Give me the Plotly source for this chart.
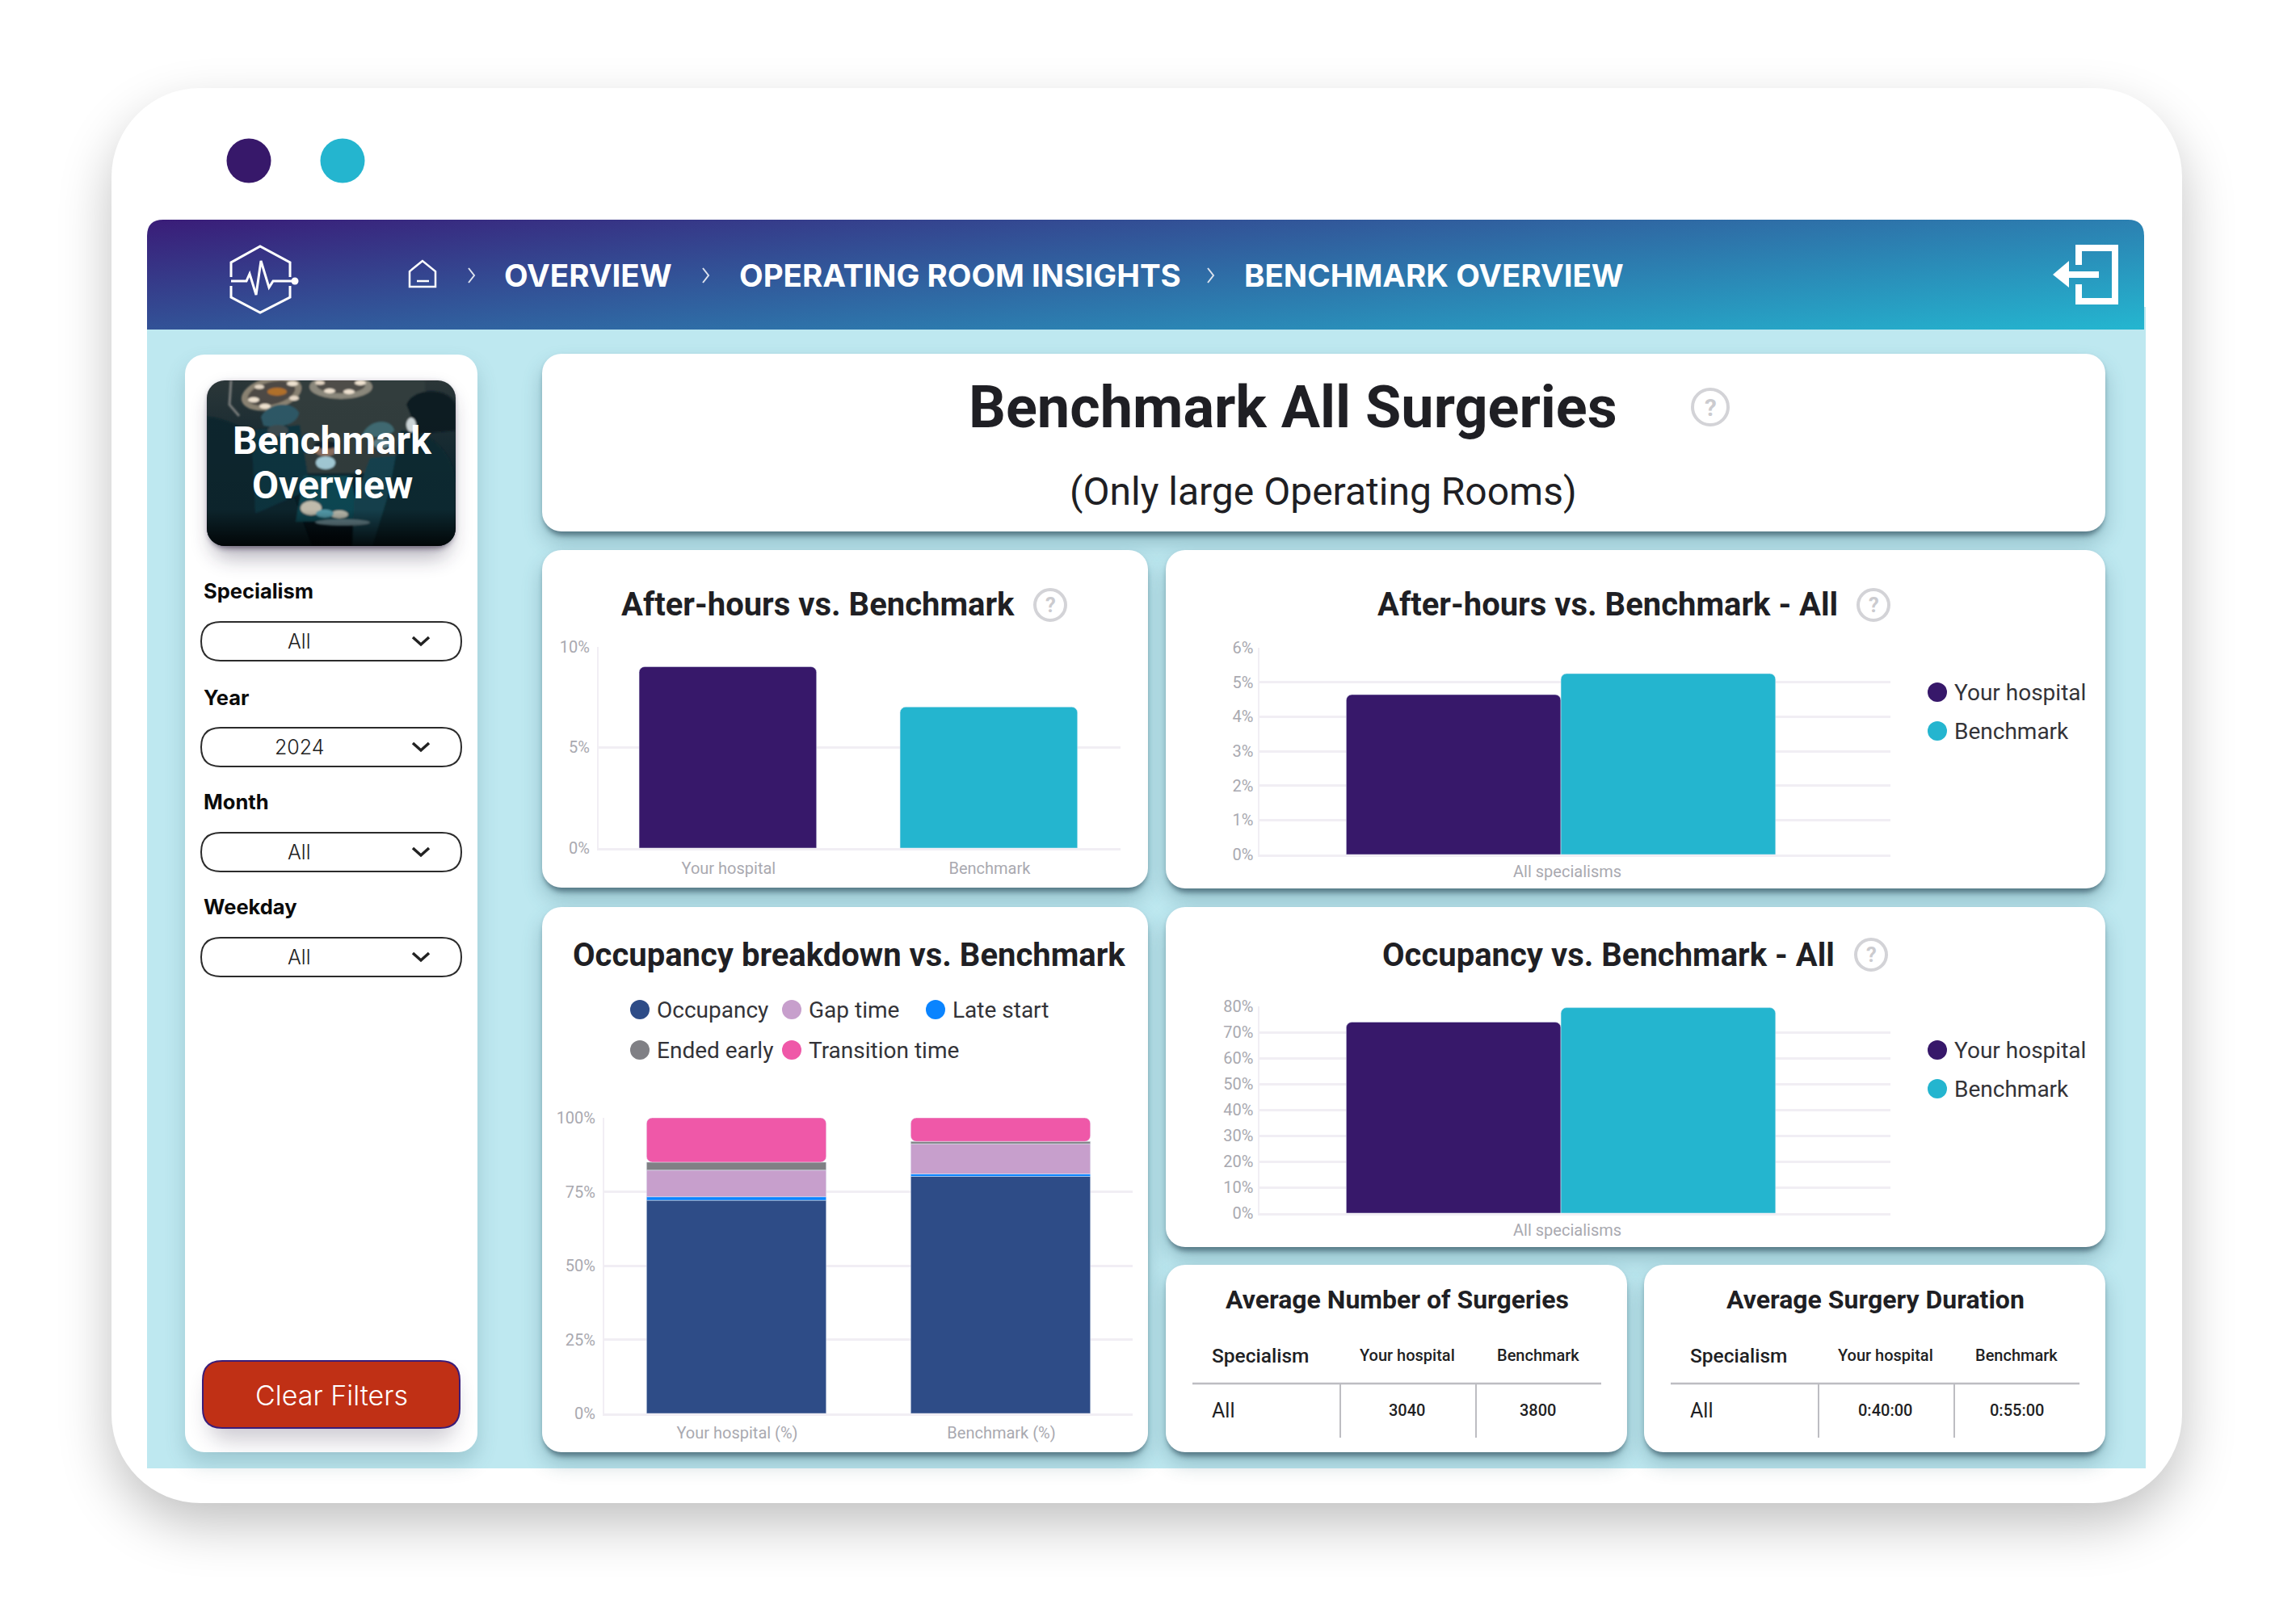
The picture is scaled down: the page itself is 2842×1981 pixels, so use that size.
import base64
import plotly.graph_objects as go

W, H = 2842, 1981

# 차트 데이터
after_cats = ["Your hospital", "Benchmark"]
after_values = [9.0, 7.0]

after_all_cats = ["All specialisms"]
after_all_hospital = [4.64]
after_all_benchmark = [5.25]

occ_all_cats = ["All specialisms"]
occ_all_hospital = [73.9]
occ_all_benchmark = [79.5]

occ_cats = ["Your hospital (%)", "Benchmark (%)"]
occ_occupancy = [72.1, 80.2]
occ_late = [1.2, 0.8]
occ_gap = [9.0, 10.2]
occ_ended = [2.7, 0.8]
occ_transition = [15.0, 8.0]

filter_labels = ["Specialism", "Year", "Month", "Weekday"]
filter_values = ["All", "2024", "All", "All"]

table_header = ["Specialism", "Your hospital", "Benchmark"]
surgeries_row = ["All", "3040", "3800"]
duration_row = ["All", "0:40:00", "0:55:00"]

PURPLE = "#37186A"
TEAL = "#24B5CF"
GRID = "#F1EEF4"
TICK = "#A9A9B0"
INK = "#1F1F24"
RING = "#D3D3D7"


def px(x):
    return x / W


def py(y):
    return 1 - y / H


def round_path(x0, y0, x1, y1, r):
    return (
        f"M {px(x0 + r)} {py(y0)} L {px(x1 - r)} {py(y0)} Q {px(x1)} {py(y0)} {px(x1)} {py(y0 + r)} "
        f"L {px(x1)} {py(y1 - r)} Q {px(x1)} {py(y1)} {px(x1 - r)} {py(y1)} "
        f"L {px(x0 + r)} {py(y1)} Q {px(x0)} {py(y1)} {px(x0)} {py(y1 - r)} "
        f"L {px(x0)} {py(y0 + r)} Q {px(x0)} {py(y0)} {px(x0 + r)} {py(y0)} Z"
    )


def line_path(points, close=False):
    s = "M " + " L ".join(f"{px(x)} {py(y)}" for x, y in points)
    return s + (" Z" if close else "")


# 배경 (그림자, 카드, 헤더 그라데이션, 사진) SVG
cards = [
    (671, 438, 2606, 658),
    (671, 681, 1421, 1099),
    (671, 1123, 1421, 1798),
    (1443, 681, 2606, 1100),
    (1443, 1123, 2606, 1544),
    (1443, 1566, 2014, 1798),
    (2035, 1566, 2606, 1798),
]

card_svg = ""
for x0, y0, x1, y1 in cards:
    w, h = x1 - x0, y1 - y0
    card_svg += f'<rect x="{x0}" y="{y0 + 14}" width="{w}" height="{h}" rx="24" fill="#2c5a68" opacity=".3" filter="url(#b16)"/>'
    card_svg += f'<rect x="{x0 + 2}" y="{y0 + 5}" width="{w - 4}" height="{h}" rx="24" fill="#2c4a58" opacity=".6" filter="url(#b3)"/>'
    card_svg += f'<rect x="{x0}" y="{y0}" width="{w}" height="{h}" rx="24" fill="#fff"/>'

photo_svg = """
<g transform="translate(256,471)" clip-path="url(#pc)">
<rect width="308" height="205" fill="url(#pg)"/>
<g filter="url(#b1)">
<rect x="100" y="0" width="170" height="115" fill="#323d3e"/>
<path d="M30 0 L28 30 L40 44" stroke="#7a7d7c" stroke-width="3" fill="none"/>
<ellipse cx="80" cy="16" rx="38" ry="20" fill="#8a8272" transform="rotate(-14 80 16)"/>
<ellipse cx="80" cy="16" rx="30" ry="14" fill="#4d4a44" transform="rotate(-14 80 16)"/>
<ellipse cx="166" cy="8" rx="39" ry="15" fill="#8b887c"/>
<ellipse cx="166" cy="6" rx="30" ry="10" fill="#4f4e49"/>
<ellipse cx="87" cy="14" rx="12" ry="5" fill="#b0702c"/>
<ellipse cx="58" cy="24" rx="7" ry="3.2" fill="#efe2d0"/><ellipse cx="72" cy="32" rx="7" ry="3.2" fill="#efe2d0"/>
<ellipse cx="65" cy="8" rx="6" ry="2.8" fill="#e6d8c6"/><ellipse cx="106" cy="4" rx="7" ry="3" fill="#efe2d0"/>
<ellipse cx="108" cy="22" rx="6" ry="3" fill="#e6d8c6"/>
<ellipse cx="152" cy="13" rx="7" ry="3" fill="#efe2d0"/><ellipse cx="176" cy="14" rx="7" ry="3" fill="#efe2d0"/>
<ellipse cx="190" cy="3" rx="7" ry="3" fill="#efe2d0"/><ellipse cx="140" cy="3" rx="6" ry="2.5" fill="#e6d8c6"/>
<path d="M0 45 C50 50 95 90 110 150 L130 205 L0 205 Z" fill="#08252e"/>
<path d="M55 62 L115 55 L128 135 L60 165 Z" fill="#0d3440"/>
<path d="M67 45 C75 28 105 24 114 40 C112 56 85 60 70 56 Z" fill="#2e5966"/>
<ellipse cx="88" cy="62" rx="13" ry="7" fill="#3c4c50"/>
<path d="M110 175 L120 118 L178 118 L190 175 Z" fill="#0f4a55"/>
<ellipse cx="147" cy="87" rx="13" ry="7" fill="#8a6e5e"/>
<ellipse cx="147" cy="80" rx="14" ry="5" fill="#152329"/>
<ellipse cx="147" cy="102" rx="12" ry="8" fill="#a4ccd8"/>
<path d="M192 68 C200 48 228 46 232 62 C226 70 205 72 192 68 Z" fill="#3f6b72"/>
<ellipse cx="216" cy="78" rx="11" ry="6" fill="#5d7f87"/>
<path d="M182 150 L202 96 L248 92 L280 205 L180 205 Z" fill="#14434f"/>
<path d="M240 62 C282 60 308 98 308 130 L308 205 L205 205 L225 140 Z" fill="#0a2933"/>
<path d="M247 30 C255 8 300 8 308 30 L308 62 L262 66 Z" fill="#0c1c23"/>
<ellipse cx="253" cy="55" rx="6" ry="9" fill="#cfd8da"/>
<ellipse cx="129" cy="158" rx="13" ry="9" fill="#c9c4b4"/>
<ellipse cx="164" cy="166" rx="11" ry="5" fill="#c4c4b6"/>
<ellipse cx="146" cy="165" rx="11" ry="5" fill="#59a3b3"/>
<ellipse cx="168" cy="176" rx="34" ry="4" fill="#6f8f98"/>
</g>
<rect width="308" height="205" fill="url(#pv)"/>
</g>
"""

backdrop = f"""<svg xmlns="http://www.w3.org/2000/svg" width="{W}" height="{H}" viewBox="0 0 {W} {H}" preserveAspectRatio="none">
<defs>
<filter id="b40" x="-20%" y="-20%" width="140%" height="140%"><feGaussianBlur stdDeviation="34"/></filter>
<filter id="b16" x="-20%" y="-20%" width="140%" height="140%"><feGaussianBlur stdDeviation="13"/></filter>
<filter id="b3" x="-10%" y="-10%" width="120%" height="120%"><feGaussianBlur stdDeviation="3"/></filter>
<filter id="b1" x="-5%" y="-5%" width="110%" height="110%"><feGaussianBlur stdDeviation="1"/></filter>
<linearGradient id="hg" x1="0" y1="0" x2="1.19" y2="0.642">
<stop offset="0" stop-color="#3A1C78"/><stop offset="1" stop-color="#24B6D0"/></linearGradient>
<linearGradient id="pg" x1="0" y1="0" x2="0" y2="1">
<stop offset="0" stop-color="#2b3638"/><stop offset=".55" stop-color="#0f2730"/><stop offset="1" stop-color="#020d14"/></linearGradient>
<linearGradient id="pv" x1="0" y1="0" x2="0" y2="1">
<stop offset="0" stop-color="#000" stop-opacity="0"/><stop offset=".78" stop-color="#000" stop-opacity=".05"/><stop offset="1" stop-color="#000" stop-opacity=".85"/></linearGradient>
<clipPath id="pc"><rect width="308" height="205" rx="22"/></clipPath>
<clipPath id="hc"><path d="M182 408 L182 292 Q182 272 202 272 L2634 272 Q2654 272 2654 292 L2654 408 Z"/></clipPath>
</defs>
<rect x="140" y="140" width="2559" height="1745" rx="110" fill="#000" opacity=".26" filter="url(#b40)"/>
<rect x="138" y="109" width="2563" height="1752" rx="110" fill="#fff"/>
<rect x="182" y="380" width="2474" height="1438" fill="#BEE8F0"/>
<rect x="182" y="272" width="2472" height="136" fill="url(#hg)" clip-path="url(#hc)"/>
<circle cx="308" cy="199" r="27.5" fill="{PURPLE}"/>
<circle cx="424" cy="199" r="27.5" fill="{TEAL}"/>
<rect x="229" y="452" width="362" height="1360" rx="24" fill="#2c5a68" opacity=".22" filter="url(#b16)"/>
<rect x="229" y="439" width="362" height="1359" rx="24" fill="#fff"/>
{card_svg}
<rect x="262" y="485" width="296" height="205" rx="22" fill="#2a2040" opacity=".35" filter="url(#b16)"/>
<rect x="258" y="474" width="304" height="205" rx="22" fill="#201530" opacity=".5" filter="url(#b3)"/>
{photo_svg}
<rect x="258" y="1700" width="306" height="84" rx="24" fill="#2a2040" opacity=".22" filter="url(#b16)"/>
</svg>"""

fig = go.Figure()

# 막대 차트
bar_h = dict(showlegend=False, hoverinfo="skip")

fig.add_trace(go.Bar(x=after_cats, y=after_values, marker=dict(color=[PURPLE, TEAL], cornerradius=7),
                     xaxis="x", yaxis="y", **bar_h))

fig.add_trace(go.Bar(x=after_all_cats, y=after_all_hospital, name="Your hospital",
                     marker=dict(color=PURPLE, cornerradius=7), xaxis="x2", yaxis="y2", **bar_h))
fig.add_trace(go.Bar(x=after_all_cats, y=after_all_benchmark, name="Benchmark",
                     marker=dict(color=TEAL, cornerradius=7), xaxis="x2", yaxis="y2", **bar_h))

fig.add_trace(go.Bar(x=occ_all_cats, y=occ_all_hospital, name="Your hospital",
                     marker=dict(color=PURPLE, cornerradius=7), xaxis="x4", yaxis="y4", **bar_h))
fig.add_trace(go.Bar(x=occ_all_cats, y=occ_all_benchmark, name="Benchmark",
                     marker=dict(color=TEAL, cornerradius=7), xaxis="x4", yaxis="y4", **bar_h))

# 누적 막대: 같은 offsetgroup + base
stack_series = [
    ("Occupancy", occ_occupancy, "#2E4C87"),
    ("Late start", occ_late, "#0A84FF"),
    ("Gap time", occ_gap, "#C79FCC"),
    ("Ended early", occ_ended, "#808085"),
    ("Transition time", occ_transition, "#EF58A8"),
]
base = [0, 0]
for i, (name, vals, color) in enumerate(stack_series):
    fig.add_trace(go.Bar(x=occ_cats, y=vals, base=list(base), name=name, offsetgroup="s",
                         marker=dict(color=color, cornerradius=7 if i == len(stack_series) - 1 else 0),
                         xaxis="x3", yaxis="y3", **bar_h))
    base = [b + v for b, v in zip(base, vals)]


def x_axis(left, right, anchor, rng, standoff, shift=0):
    return dict(domain=[px(left), px(right)], anchor=anchor, range=rng, type="category",
                showgrid=False, zeroline=False, showline=True, linecolor=GRID, linewidth=3, ticks="",
                ticklabelstandoff=standoff, ticklabelshift=shift,
                tickfont=dict(family="Roboto", size=20, color=TICK), fixedrange=True, automargin=False)


def y_axis(top, bottom, anchor, rng, dtick, standoff):
    return dict(domain=[py(bottom), py(top)], anchor=anchor, range=rng, dtick=dtick, ticksuffix="%",
                showgrid=True, gridcolor=GRID, gridwidth=3, zeroline=False, showline=True, linecolor=GRID,
                linewidth=2, ticks="", ticklabelstandoff=standoff,
                tickfont=dict(family="Roboto", size=20, color=TICK), fixedrange=True, automargin=False)


fig.update_layout(
    width=W, height=H, autosize=False, margin=dict(l=0, r=0, t=0, b=0, pad=0, autoexpand=False),
    paper_bgcolor="#FFFFFF", plot_bgcolor="rgba(0,0,0,0)",
    barmode="group", bargap=0.32, bargroupgap=0, showlegend=False,
    font=dict(family="Roboto", color=INK),
    xaxis=x_axis(741, 1387, "y", [-0.495, 1.505], 5, 1),
    yaxis=y_axis(800.5, 1050, "x", [0, 10], 5, 5),
    xaxis2=x_axis(1558.5, 2340, "y2", [-0.478, 0.522], 1, 8),
    yaxis2=y_axis(802, 1058, "x2", [0, 6], 1, 1),
    xaxis3=x_axis(748, 1402, "y3", [-0.5, 1.5], 4, 1),
    yaxis3=y_axis(1384, 1750, "x3", [0, 100], 25, 5),
    xaxis4=x_axis(1558.5, 2340, "y4", [-0.478, 0.522], 1, 8),
    yaxis4=y_axis(1246, 1502, "x4", [0, 80], 10, 1),
    images=[dict(source="data:image/svg+xml;base64," + base64.b64encode(backdrop.encode()).decode(),
                 xref="paper", yref="paper", x=0, y=1, sizex=1, sizey=1, xanchor="left", yanchor="top",
                 sizing="stretch", layer="below")],
)


def label(text, x, y, size, color=INK, weight=400, anchor="center", family="Roboto"):
    fig.add_annotation(text=text, x=px(x), y=py(y), xref="paper", yref="paper", xanchor=anchor, yanchor="middle",
                       showarrow=False, borderpad=0,
                       font=dict(family=family, size=size, color=color, weight=weight))


def stroke(path, color="#FFFFFF", width=3, fill="rgba(0,0,0,0)"):
    fig.add_shape(type="path", path=path, xref="paper", yref="paper",
                  line=dict(color=color, width=width), fillcolor=fill)


def dot(cx, cy, r, color):
    fig.add_shape(type="circle", xref="paper", yref="paper", x0=px(cx - r), x1=px(cx + r),
                  y0=py(cy + r), y1=py(cy - r), fillcolor=color, line=dict(width=0))


def help_icon(cx, cy, r):
    fig.add_shape(type="circle", xref="paper", yref="paper", x0=px(cx - r), x1=px(cx + r),
                  y0=py(cy + r), y1=py(cy - r), line=dict(color=RING, width=4))
    label("?", cx, cy, r * 1.35, color="#CBCBCF", weight=700)


# 헤더 아이콘
stroke(line_path([(286, 343), (286, 325), (322, 305), (359, 325), (359, 343)]))
stroke(line_path([(286, 354), (286, 368), (322, 387), (359, 368), (359, 354)]))
stroke(line_path([(286, 348), (305, 348), (309, 339), (317, 365), (323, 323), (333, 356), (338, 348), (365, 348)]))
dot(365, 348, 4.5, "#FFFFFF")
stroke(line_path([(523, 323), (507, 336), (507, 355), (539, 355), (539, 336)], close=True), width=2.5)
stroke(line_path([(516, 348), (531, 348)]), width=2.5)
stroke(line_path([(2573, 328), (2573, 307), (2618, 307), (2618, 373), (2573, 373), (2573, 352)]), width=8)
stroke(line_path([(2561, 340), (2598, 340)]), width=8)
stroke(line_path([(2541, 340), (2561, 323), (2561, 356)], close=True), width=0, fill="#FFFFFF")

for cx in [583, 873, 1498]:
    stroke(line_path([(cx - 3, 332), (cx + 4, 341), (cx - 3, 350)]), color="#DDE3EE", width=2)

label("OVERVIEW", 623, 341, 38.5, "#FFFFFF", 700, "left", "Inter")
label("OPERATING ROOM INSIGHTS", 914, 341, 38.5, "#FFFFFF", 700, "left", "Inter")
label("BENCHMARK OVERVIEW", 1539, 341, 38.5, "#FFFFFF", 700, "left", "Inter")

# 사이드바
label("Benchmark", 411, 545, 48, "#FFFFFF", 700)
label("Overview", 411, 600, 48, "#FFFFFF", 700)

label_y = [732, 863, 993, 1122]
box_y = [770, 901, 1031, 1161]
for lab, val, ly, by in zip(filter_labels, filter_values, label_y, box_y):
    label(lab, 251, ly, 25.5, "#0B0B0B", 700, "left", "Inter")
    stroke(round_path(249, by, 571, by + 48, 24), color="#2B2B2B", width=2)
    label(val, 370, by + 24, 25, "#222222", 300, family="Inter")
    stroke(line_path([(511, by + 19), (521, by + 28), (531, by + 19)]), color="#222222", width=3.5)

fig.add_shape(type="path", path=round_path(251, 1685, 569, 1768, 24), xref="paper", yref="paper",
              fillcolor="#C03015", line=dict(color="#3A1C78", width=2))
label("Clear Filters", 410, 1727, 34, "#FFFFFF", 300, family="Inter")

# 제목
label("Benchmark All Surgeries", 1600, 505, 72, INK, 700)
label("(Only large Operating Rooms)", 1638, 608, 48, INK, 400)
help_icon(2117, 504, 22)

label("After-hours vs. Benchmark", 1012, 748, 40, INK, 700)
help_icon(1300, 749, 19)
label("After-hours vs. Benchmark - All", 1990, 748, 40, INK, 700)
help_icon(2319, 749, 19)
label("Occupancy vs. Benchmark - All", 1991, 1182, 40, INK, 700)
help_icon(2316, 1182, 19)
label("Occupancy breakdown vs. Benchmark", 1051, 1182, 40, INK, 700)

# 범례
for top in [857, 1300]:
    dot(2398, top, 12, PURPLE)
    label("Your hospital", 2418, top, 28, "#333338", 400, "left")
    dot(2398, top + 48, 12, TEAL)
    label("Benchmark", 2418, top + 48, 28, "#333338", 400, "left")

legend_rows = [
    ("Occupancy", "#2E4C87", 792, 1250),
    ("Gap time", "#C79FCC", 980, 1250),
    ("Late start", "#0A84FF", 1158, 1250),
    ("Ended early", "#808085", 792, 1300),
    ("Transition time", "#EF58A8", 980, 1300),
]
for name, color, cx, cy in legend_rows:
    dot(cx, cy, 12, color)
    label(name, cx + 20, cy, 28, "#333338", 400, "left")

# 표
label("Average Number of Surgeries", 1729, 1609, 32, INK, 700)
label("Average Surgery Duration", 2321, 1609, 32, INK, 700)

for dx, row in [(0, surgeries_row), (592, duration_row)]:
    stroke(line_path([(1476 + dx, 1713), (1982 + dx, 1713)]), color="#BDBDC2", width=2.5)
    stroke(line_path([(1659 + dx, 1713), (1659 + dx, 1780)]), color="#BDBDC2", width=2)
    stroke(line_path([(1827 + dx, 1713), (1827 + dx, 1780)]), color="#BDBDC2", width=2)
    label(table_header[0], 1499 + dx, 1678, 24.5, INK, 500, "left")
    label(table_header[1], 1742 + dx, 1678, 20, INK, 500)
    label(table_header[2], 1904 + dx, 1678, 20, INK, 500)
    label(row[0], 1499 + dx, 1746, 25, INK, 400, "left")
    label(row[1], 1741 + dx, 1746, 20, INK, 500)
    label(row[2], 1904 + dx, 1746, 20, INK, 500)

fig.write_html("out.html", config=dict(displayModeBar=False),
               post_script="document.body.style.margin='0';document.body.style.overflow='hidden';")
